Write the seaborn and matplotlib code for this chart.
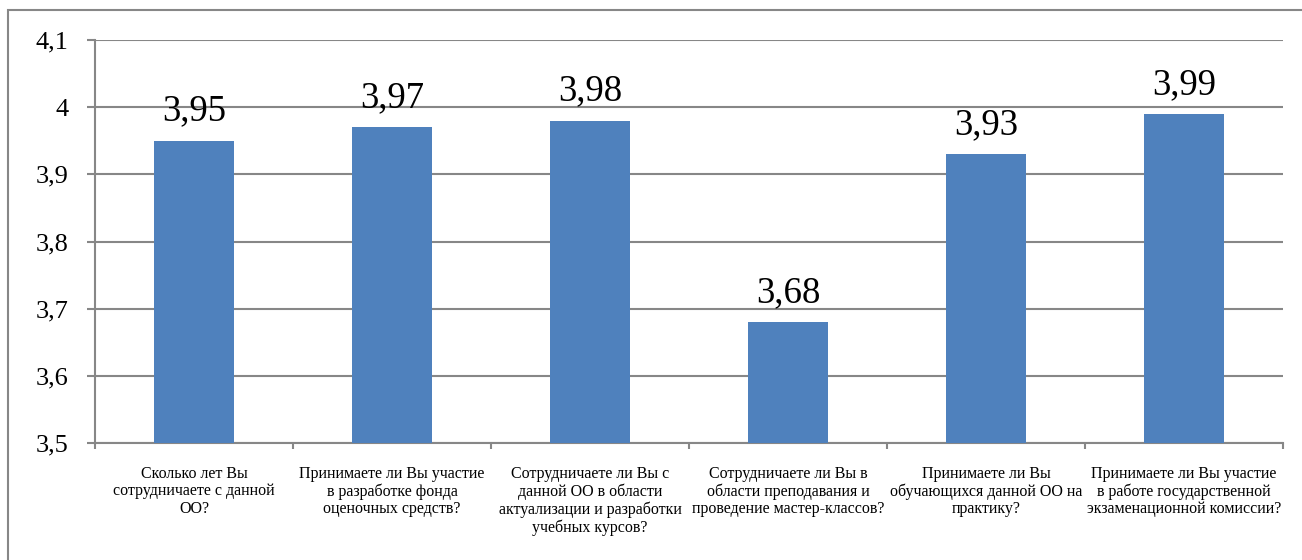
import numpy as np
import pandas as pd
import matplotlib
matplotlib.use("Agg")
import matplotlib.pyplot as plt
from matplotlib.patches import Rectangle
import seaborn as sns

questions = [
    "Сколько лет Вы\nсотрудничаете с данной\nОО?",
    "Принимаете ли Вы участие\nв разработке фонда\nоценочных средств?",
    "Сотрудничаете ли Вы с\nданной ОО в области\nактуализации и разработки\nучебных курсов?",
    "Сотрудничаете ли Вы в\nобласти преподавания и\nпроведение мастер-классов?",
    "Принимаете ли Вы\nобучающихся данной ОО на\nпрактику?",
    "Принимаете ли Вы участие\nв работе государственной\nэкзаменационной комиссии?",
]
scores = [3.95, 3.97, 3.98, 3.68, 3.93, 3.99]
yticks = [3.5, 3.6, 3.7, 3.8, 3.9, 4.0, 4.1]
ytick_labels = ["3,5", "3,6", "3,7", "3,8", "3,9", "4", "4,1"]

sns.set_style("white")
plt.rcParams["font.family"] = ["Liberation Serif", "DejaVu Serif"]
plt.rcParams["text.color"] = "black"
plt.rcParams["xtick.labelcolor"] = "black"
plt.rcParams["ytick.labelcolor"] = "black"

df = pd.DataFrame({"q": questions, "score": scores})

fig = plt.figure(figsize=(13.02, 5.6), dpi=100)
ax = fig.add_axes([95 / 1302, 1 - 443 / 560, (1283 - 95) / 1302, (443 - 40) / 560])

sns.barplot(data=df, x="q", y="score", color="#4F81BD", saturation=1,
            width=0.4, linewidth=0, ax=ax, zorder=3)

ax.set_ylim(3.5, 4.1)
ax.set_xlim(-0.5, len(questions) - 0.5)
ax.set_yticks(yticks)
ax.set_yticklabels(ytick_labels, fontsize=19)
ax.set_xticks(range(len(questions)))
ax.set_xticklabels(questions, fontsize=11.5, linespacing=1.12)
ax.set_xticks(np.arange(-0.5, len(questions)), minor=True)
ax.tick_params(axis="x", which="major", bottom=False, pad=13)
ax.tick_params(axis="x", which="minor", bottom=True, length=4, width=1.5,
               color="#878787")
ax.tick_params(axis="y", left=True, length=6, width=1.5, color="#878787",
               pad=13)
ax.set_xlabel("")
ax.set_ylabel("")

ax.grid(axis="y", color="#878787", linewidth=1.5, zorder=0)
ax.set_axisbelow(True)
for side in ["top", "right"]:
    ax.spines[side].set_visible(False)
for side in ["left", "bottom"]:
    ax.spines[side].set_color("#878787")
    ax.spines[side].set_linewidth(1.5)

for i, v in enumerate(scores):
    ax.text(i, v + 0.018, f"{v:.2f}".replace(".", ","), ha="center", va="bottom",
            fontsize=26.5)

# outer chart frame
fig.patches.append(Rectangle((8 / 1302, -0.05), 1.1, 1 - 10 / 560 + 0.05,
                             transform=fig.transFigure, fill=False,
                             edgecolor="#878787", linewidth=1.5))

fig.savefig("out.png", dpi=100)
